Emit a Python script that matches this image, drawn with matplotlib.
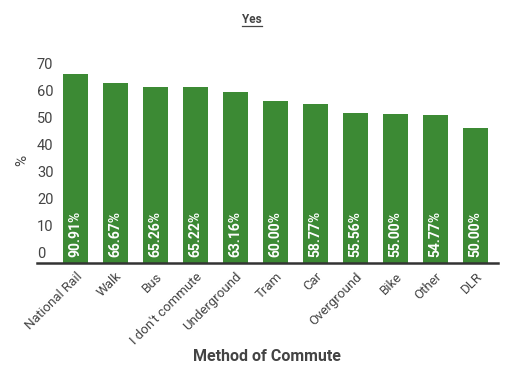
import matplotlib
matplotlib.use('Agg')
import matplotlib.pyplot as plt

plt.rcParams['font.family'] = ['Roboto', 'DejaVu Sans']

categories = ['National Rail', 'Walk', 'Bus', "I don't commute", 'Underground',
              'Tram', 'Car', 'Overground', 'Bike', 'Other', 'DLR']
values = [90.91, 66.67, 65.26, 65.22, 63.16, 60.00, 58.77, 55.56, 55.00, 54.77, 50.00]
yticks = [0, 10, 20, 30, 40, 50, 60, 70]

BAR = '#3c8a34'
TXT = '#444444'

fig = plt.figure(figsize=(5.18, 3.68), dpi=100)
ax = fig.add_axes([0.0714, 0.2853, 0.8896, 0.5137])

x = list(range(len(categories)))
ax.bar(x, values, width=0.625, color=BAR, zorder=2)
ax.set_xlim(-0.96, len(categories) - 0.44)
ax.set_ylim(0, 70)

# value labels inside the bars, at the bottom
for xi, v in zip(x, values):
    ax.annotate(f'{v:.2f}%', (xi, 0), xytext=(0, 4), textcoords='offset points',
                rotation=90, ha='center', va='bottom', color='white',
                fontsize=10, fontweight='bold', zorder=3)

# y tick labels sit just above their value, left aligned at axis edge
ax.set_yticks([])
ytr = ax.get_yaxis_transform()
for t in yticks:
    ax.annotate(str(t), (0, t), xycoords=ytr, xytext=(0, 1.5),
                textcoords='offset points', ha='left', va='bottom',
                fontsize=10.5, color=TXT)

ax.set_xticks(x)
ax.set_xticklabels(categories, rotation=45, ha='right', rotation_mode='anchor',
                   fontsize=9.5, color=TXT)
ax.tick_params(axis='x', length=0, pad=5)

for s in ['top', 'right', 'left']:
    ax.spines[s].set_visible(False)
ax.spines['bottom'].set_color('#333333')
ax.spines['bottom'].set_linewidth(1.8)
ax.spines['bottom'].set_zorder(4)

fig.text(0.042, 0.565, '%', rotation=90, ha='center', va='center',
         fontsize=11, color=TXT)
fig.text(0.516, 0.030, 'Method of Commute', ha='center', va='center',
         fontsize=11.5, fontweight='bold', color=TXT)
fig.text(0.486, 0.948, 'Yes', ha='center', va='center',
         fontsize=8.5, fontweight='bold', color=TXT)
fig.add_artist(plt.Line2D([0.468, 0.506], [0.928, 0.928], color=TXT, lw=0.9))

fig.savefig('out.png', dpi=100)
